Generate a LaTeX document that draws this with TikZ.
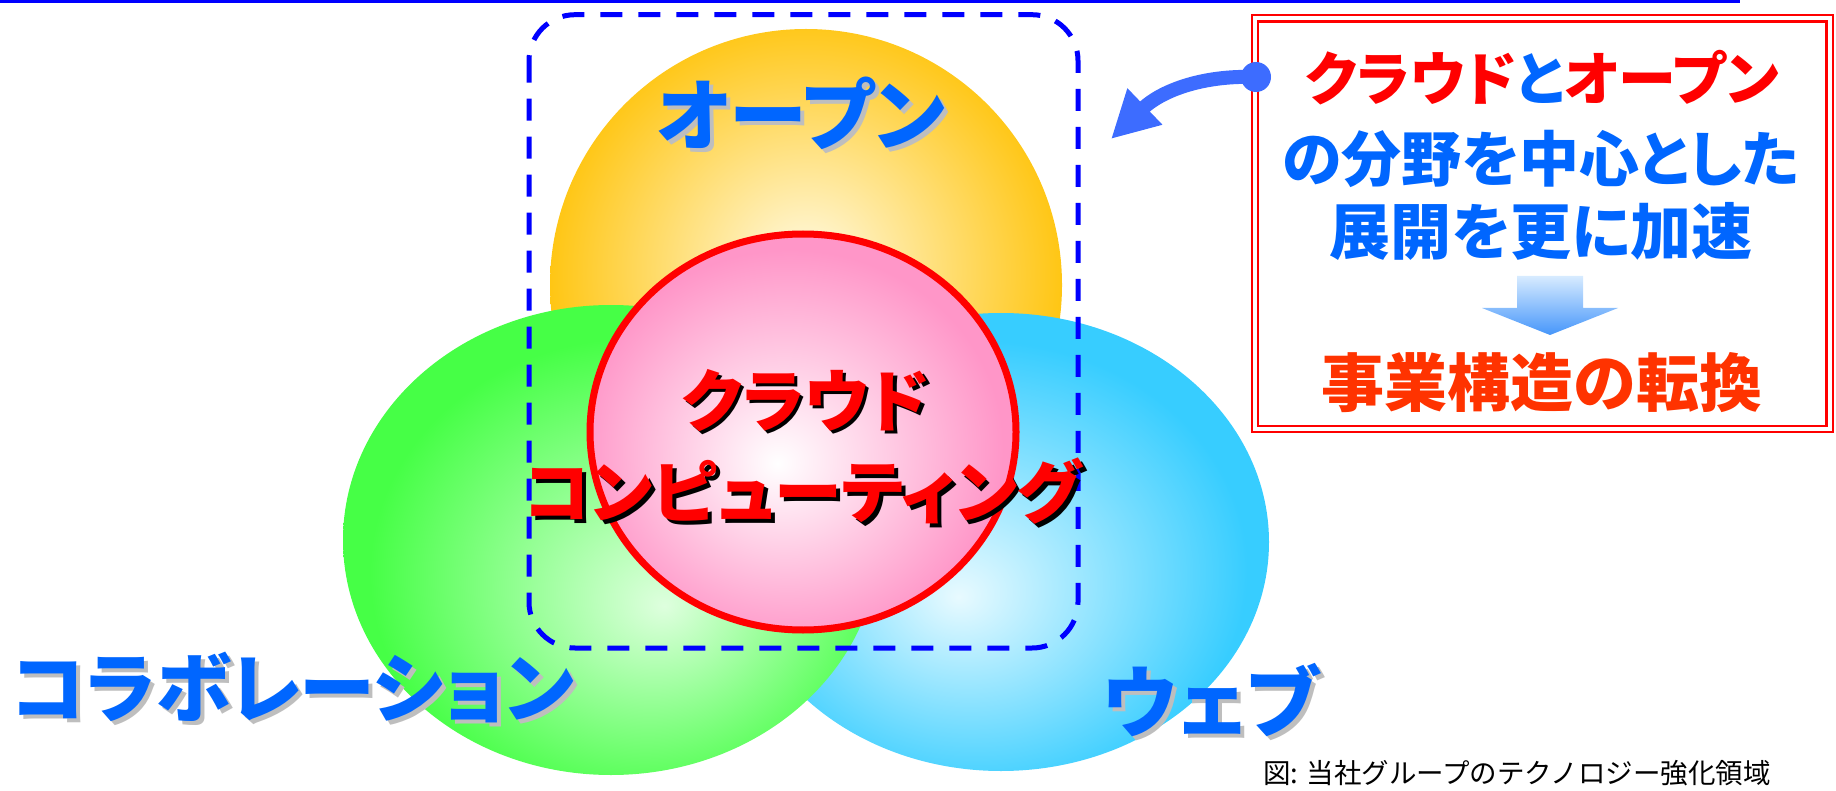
\documentclass[tikz,border=0pt]{standalone}
\usepackage{fontspec}
\usetikzlibrary{arrows.meta}
\newfontfamily\jpb{Noto Sans CJK JP}[RawFeature=+palt]
\newfontfamily\jpr{Noto Sans CJK JP}
\definecolor{lineblue}{RGB}{0,0,255}
\definecolor{orOut}{RGB}{255,198,20}
\definecolor{orIn}{RGB}{255,250,228}
\definecolor{grOut}{RGB}{70,255,70}
\definecolor{grIn}{RGB}{222,255,222}
\definecolor{blOut}{RGB}{55,205,255}
\definecolor{blIn}{RGB}{232,250,255}
\definecolor{pkOut}{RGB}{255,150,200}
\definecolor{pkIn}{RGB}{255,255,255}
\definecolor{ringred}{RGB}{255,0,0}
\definecolor{txtblue}{RGB}{0,102,255}
\definecolor{txtred}{RGB}{255,0,0}
\definecolor{txtorange}{RGB}{255,51,0}
\definecolor{shgray}{RGB}{190,190,190}
\definecolor{arrblue}{RGB}{61,108,255}
\definecolor{arrTop}{RGB}{215,235,255}
\definecolor{arrBot}{RGB}{70,150,250}
\pgfdeclareradialshading{orsh}{\pgfpoint{0bp}{2bp}}{color(0bp)=(orIn); color(25bp)=(orOut); color(50bp)=(orOut)}
\pgfdeclareradialshading{grsh}{\pgfpoint{5bp}{-7bp}}{color(0bp)=(grIn); color(25bp)=(grOut); color(50bp)=(grOut)}
\pgfdeclareradialshading{blsh}{\pgfpoint{-4bp}{-6bp}}{color(0bp)=(blIn); color(25bp)=(blOut); color(50bp)=(blOut)}
\pgfdeclareradialshading{pksh}{\pgfpoint{-3bp}{-4bp}}{color(0bp)=(pkIn); color(25bp)=(pkOut); color(50bp)=(pkOut)}
% text with a drop shadow: #1 offset, #2 shadow colour, #3 text
\newcommand\dropshadowed[3]{\leavevmode\rlap{\kern#1\raisebox{-#1}{\textcolor{#2}{#3}}}#3}
\tikzset{
  biglbl/.style={inner sep=0pt, font={\jpb\bfseries\fontsize{78}{80}\selectfont}},
  midlbl/.style={inner sep=0pt, font={\jpb\bfseries\fontsize{68}{70}\selectfont}},
  boxlbl/.style={inner sep=0pt, font={\jpb\bfseries\fontsize{60}{62}\selectfont}},
  caplbl/.style={inner sep=0pt, font={\jpr\fontsize{27.5}{28}\selectfont}, anchor=west},
}
\begin{document}
\begin{tikzpicture}[x=1pt,y=-1pt]
\useasboundingbox (0,0) rectangle (1836,791);
% top rule
\draw[lineblue, line width=3pt] (0,1.5) -- (1740,1.5);
% circles
\shade[shading=orsh] (806,285) circle [radius=256];
\shade[shading=blsh] (1001,542) ellipse [x radius=268, y radius=229];
\shade[shading=grsh] (611,540) ellipse [x radius=268, y radius=235];
\shade[shading=pksh] (803,432) ellipse [x radius=213, y radius=198];
\draw[ringred, line width=7pt] (803,432) ellipse [x radius=213, y radius=198];
% dashed frame
\draw[lineblue, line width=5pt, dash pattern=on 22pt off 16pt, rounded corners=46pt] (529,14.7) rectangle (1078,648);
% labels
\node[biglbl, text=txtblue] (open) at (801,115) {\dropshadowed{4pt}{shgray}{オープン}};
\node[biglbl, text=txtblue, font={\jpb\bfseries\fontsize{76}{78}\selectfont}] (collab) at (293,690) {\dropshadowed{4pt}{shgray}{コラボレーション}};
\node[biglbl, text=txtblue] (web) at (1211,702) {\dropshadowed{4pt}{shgray}{ウェブ}};
\node[midlbl, text=txtred] (cloud1) at (805,402) {\dropshadowed{3.5pt}{black}{クラウド}};
\node[midlbl, text=txtred] (cloud2) at (803,493) {\dropshadowed{3.5pt}{black}{コンピューティング}};
% message box
\draw[ringred, line width=2pt] (1252,15.5) rectangle (1832.5,432);
\draw[ringred, line width=2.5pt] (1258,21.5) rectangle (1826.5,426);
\node[boxlbl, font={\jpb\bfseries\fontsize{58}{60}\selectfont}] (msg1) at (1542,78) {\textcolor{txtred}{クラウド}\textcolor{txtblue}{と}\textcolor{txtred}{オープン}};
\node[boxlbl, text=txtblue] (msg2) at (1541,159) {の分野を中心とした};
\node[boxlbl, text=txtblue, font={\jpb\bfseries\fontsize{61}{63}\selectfont}] (msg3) at (1541,231) {展開を更に加速};
\shade[top color=arrTop, bottom color=arrBot] (1517,276) -- (1583,276) -- (1583,308) -- (1618,308) -- (1550,335) -- (1482,308) -- (1517,308) -- cycle;
\node[boxlbl, text=txtorange, font={\jpb\bfseries\fontsize{63}{65}\selectfont}] (msg4) at (1542,383) {事業構造の転換};
% pointer arrow
\node[circle, fill=arrblue, minimum size=30pt, inner sep=0pt] (dot) at (1256,77) {};
\coordinate (arrtip) at (1111,139);
\draw[arrblue, line width=14pt, -{Triangle[length=47pt,width=47pt]}] (dot.center) .. controls (1200,75) and (1160,92) .. (arrtip);
% caption
\node[caplbl] (cap) at (1263,773) {図: 当社グループのテクノロジー強化領域};
\end{tikzpicture}
\end{document}
